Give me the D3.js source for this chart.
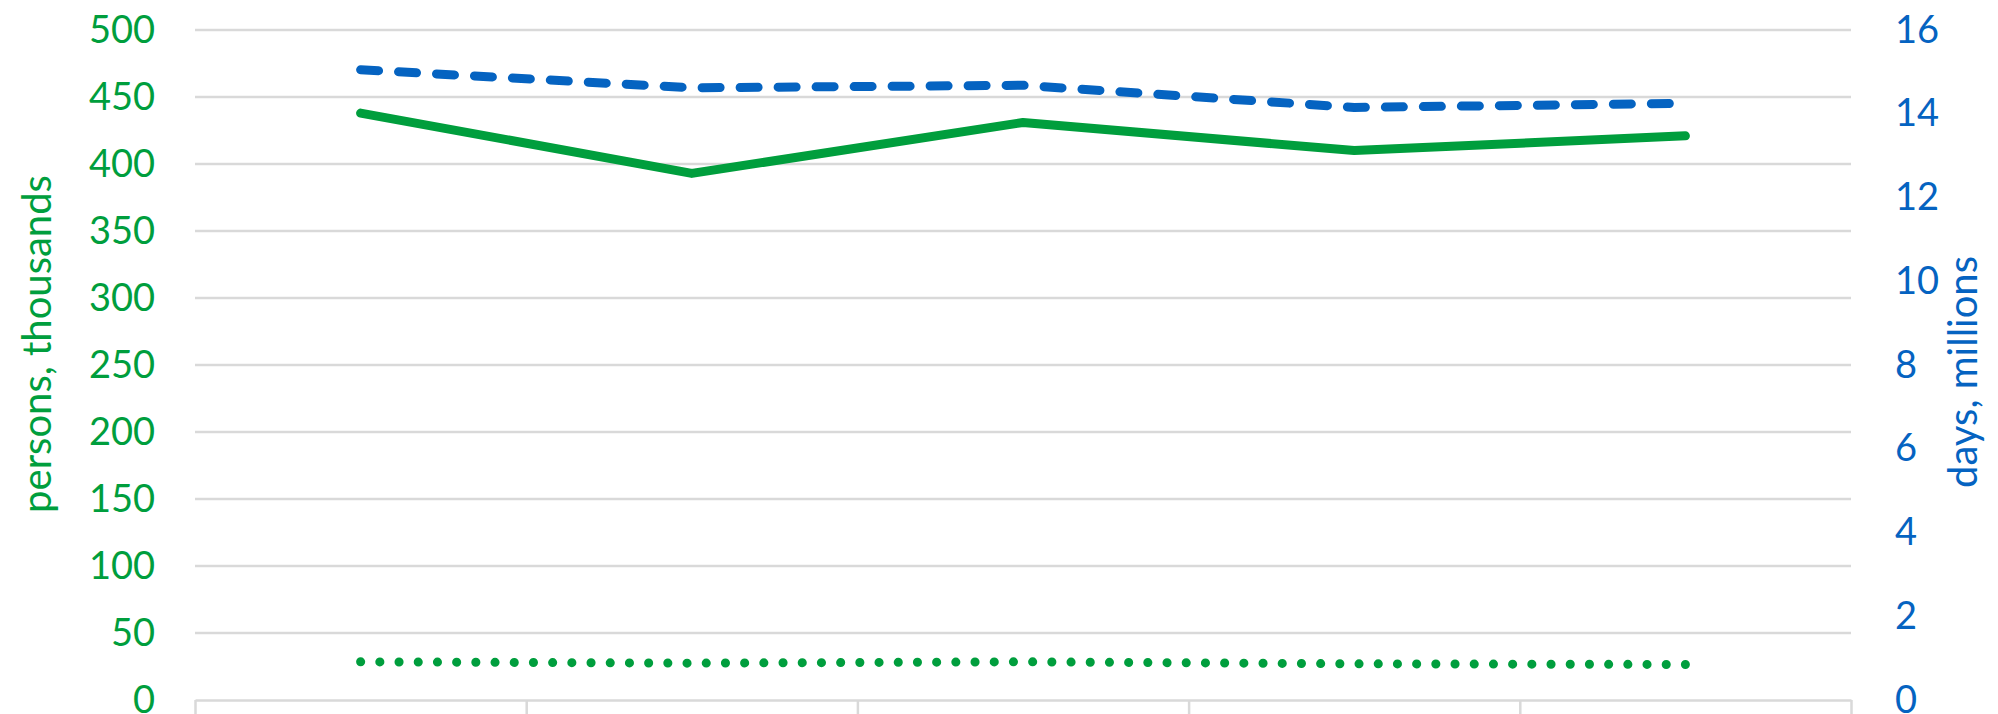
<!DOCTYPE html>
<html>
<head>
<meta charset="utf-8">
<script src="https://cdn.jsdelivr.net/npm/d3@7"></script>
<style>
  html, body { margin: 0; padding: 0; background: #fff; }
  text { font-family: Lato, "Open Sans", sans-serif; }
</style>
</head>
<body>
<div class="chart"></div>
<script>
;(function(window) {
  // five periods, labels sit below the visible area
  const categories = ["p1", "p2", "p3", "p4", "p5"]
  const personsTotal = [438, 393, 431, 410, 421]
  const personsSmall = [28.5, 27.5, 28.5, 27, 26.5]
  const daysTotal = [15.05, 14.62, 14.68, 14.15, 14.25]
  const leftTicks = [0, 50, 100, 150, 200, 250, 300, 350, 400, 450, 500]
  const rightTicks = [0, 2, 4, 6, 8, 10, 12, 14, 16]

  const width = 1998
  const height = 714
  const plot = { left: 195, right: 1851, top: 30, bottom: 700 }
  const green = "#009e3d"
  const blue = "#0563c1"
  const grid = "#d9d9d9"

  const $svg = d3
    .select(".chart")
    .append("svg")
    .attr("width", width)
    .attr("height", height)

  const xScale = d3
    .scaleBand()
    .domain(categories)
    .range([plot.left, plot.right])
  const xEdge = d3
    .scaleLinear()
    .domain([0, categories.length])
    .range([plot.left, plot.right])
  const yLeft = d3
    .scaleLinear()
    .domain([0, 500])
    .range([plot.bottom, plot.top])
  const yRight = d3
    .scaleLinear()
    .domain([0, 16])
    .range([plot.bottom, plot.top])

  // gridlines
  $svg
    .append("g")
    .attr("class", "grid")
    .selectAll("line")
    .data(leftTicks.filter(d => d > 0))
    .enter()
    .append("line")
    .attr("x1", plot.left)
    .attr("x2", plot.right)
    .attr("y1", d => yLeft(d))
    .attr("y2", d => yLeft(d))
    .attr("stroke", grid)
    .attr("stroke-width", 2.5)

  // x axis: baseline + ticks at category edges
  const $xAxis = $svg
    .append("g")
    .attr("class", "axis x-axis")
    .attr("transform", `translate(0, ${plot.bottom})`)
    .call(
      d3
        .axisBottom(xEdge)
        .tickValues(d3.range(categories.length + 1))
        .tickSize(16)
        .tickSizeOuter(0)
        .tickFormat("")
    )
  $xAxis.selectAll("path, line").attr("stroke", grid).attr("stroke-width", 2.5)

  const $yAxis = $svg
    .append("g")
    .attr("class", "axis y-axis")
    .attr("transform", `translate(${plot.left - 40}, 0)`)
    .call(d3.axisLeft(yLeft).tickValues(leftTicks).tickSize(0).tickPadding(0))
  $yAxis.select(".domain").remove()
  $yAxis
    .selectAll("text")
    .attr("fill", green)
    .attr("font-size", 38)
    .attr("font-family", "Lato, sans-serif")

  const $yAxisR = $svg
    .append("g")
    .attr("class", "axis y-axis-right")
    .attr("transform", `translate(${plot.right + 44}, 0)`)
    .call(d3.axisRight(yRight).tickValues(rightTicks).tickSize(0).tickPadding(0))
  $yAxisR.select(".domain").remove()
  $yAxisR
    .selectAll("text")
    .attr("fill", blue)
    .attr("font-size", 38)
    .attr("font-family", "Lato, sans-serif")

  $svg
    .append("text")
    .attr("transform", `translate(51, 344) rotate(-90)`)
    .attr("text-anchor", "middle")
    .attr("fill", green)
    .attr("font-size", 40)
    .text("persons, thousands")

  $svg
    .append("text")
    .attr("transform", `translate(1977, 372) rotate(-90)`)
    .attr("text-anchor", "middle")
    .attr("fill", blue)
    .attr("font-size", 40)
    .text("days, millions")

  const cx = i => xScale(categories[i]) + xScale.bandwidth() / 2

  const series = [
    { key: "persons-small", values: personsSmall, y: yLeft, color: green, dash: "0.1,19.1" },
    { key: "days-total", values: daysTotal, y: yRight, color: blue, dash: "18,20" },
    { key: "persons-total", values: personsTotal, y: yLeft, color: green, dash: null }
  ]

  $svg
    .append("g")
    .attr("id", "lines")
    .selectAll("path")
    .data(series, d => d.key)
    .enter()
    .append("path")
    .attr("id", d => d.key)
    .attr("d", d =>
      d3
        .line()
        .x((v, i) => cx(i))
        .y(v => d.y(v))(d.values)
    )
    .attr("fill", "none")
    .attr("stroke", d => d.color)
    .attr("stroke-width", 9)
    .attr("stroke-linecap", "round")
    .attr("stroke-linejoin", "round")
    .attr("stroke-dasharray", d => d.dash)
})(window)
</script>
</body>
</html>
